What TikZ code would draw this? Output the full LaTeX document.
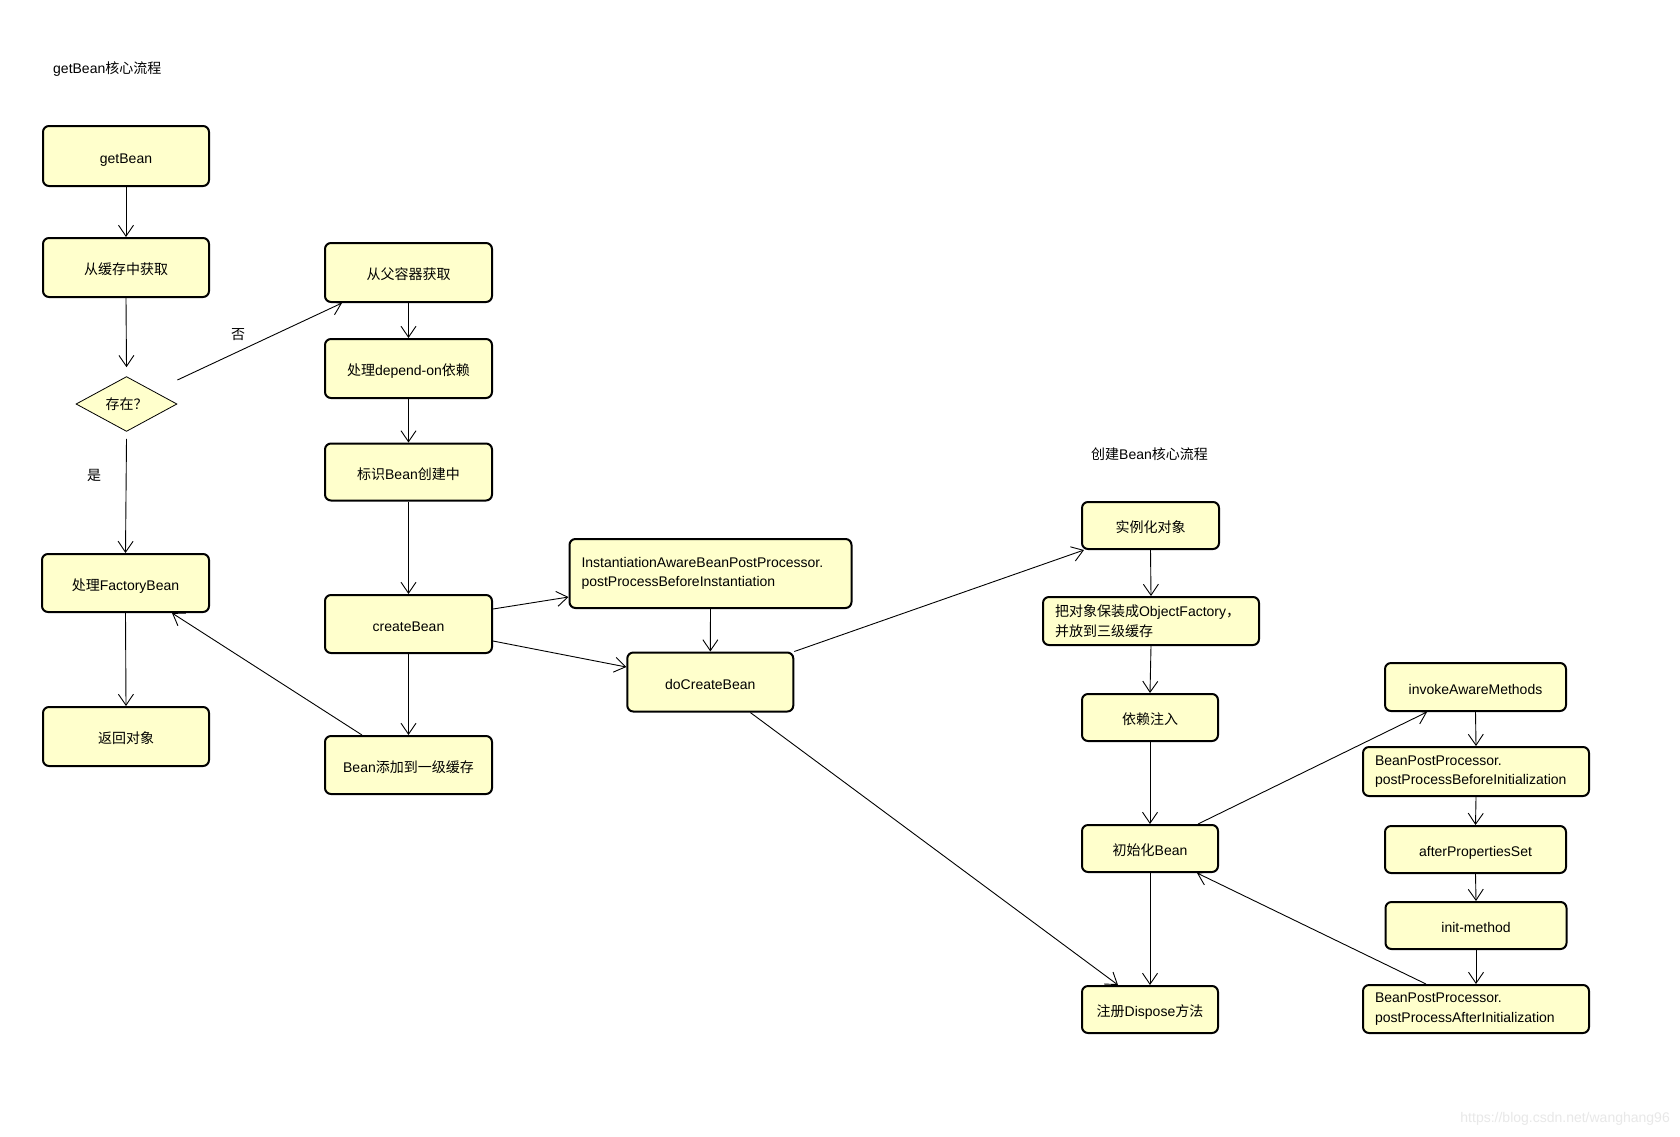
\documentclass[tikz,border=0pt]{standalone}
\usepackage{fontspec}
\setmainfont{Liberation Sans}
\newfontfamily\cjk{Noto Sans CJK SC}
\usetikzlibrary{arrows.meta,shapes.geometric,calc}
\definecolor{boxfill}{RGB}{255,255,204}
\newcommand\zhtxt[1]{{\cjk #1}}
\begin{document}
\begin{tikzpicture}[x=1pt,y=-1pt,
  font=\fontsize{14}{19.5}\selectfont,
  box/.style={draw=black, line width=2pt, rounded corners=6pt, fill=boxfill, inner sep=0pt, align=center},
  sbox/.style={box, text height=17pt, text depth=3pt},
  lbox/.style={box, align=left, inner xsep=12pt},
  flow/.style={line width=0.9pt, -{Straight Barb[length=11pt,width=15pt,line width=0.9pt]}},
  lbl/.style={inner sep=0pt},
]
\useasboundingbox[fill=white] (0,0) rectangle (1680,1136);

% titles
\node[lbl, anchor=west] (t1) at (53,69) {getBean\zhtxt{核心流程}};
\node[lbl, anchor=west] (t2) at (1091,454) {\zhtxt{创建}Bean\zhtxt{核心流程}};

% left column
\node[sbox, minimum width=166pt, minimum height=60pt] (getbean) at (126,156) {getBean};
\node[sbox, minimum width=166pt, minimum height=59pt] (cache) at (126,267.5) {\zhtxt{从缓存中获取}};
\node[diamond, draw=black, line width=0.8pt, fill=boxfill, minimum width=101pt, minimum height=54pt, inner sep=0pt] (dia) at (126.5,404) {\zhtxt{存在？}};
\node[sbox, minimum width=167pt, minimum height=58pt] (factory) at (125.5,583) {\zhtxt{处理}FactoryBean};
\node[sbox, minimum width=166pt, minimum height=59pt] (ret) at (126,736.5) {\zhtxt{返回对象}};

% second column
\node[sbox, minimum width=167pt, minimum height=59pt] (parent) at (408.5,272.5) {\zhtxt{从父容器获取}};
\node[sbox, minimum width=167pt, minimum height=59pt] (depend) at (408.5,368.5) {\zhtxt{处理}depend-on\zhtxt{依赖}};
\node[sbox, minimum width=167pt, minimum height=57pt] (mark) at (408.5,472) {\zhtxt{标识}Bean\zhtxt{创建中}};
\node[sbox, minimum width=167pt, minimum height=58pt] (create) at (408.5,624) {createBean};
\node[sbox, minimum width=167pt, minimum height=58pt] (add) at (408.5,765) {Bean\zhtxt{添加到一级缓存}};

% middle
\node[lbox, text width=258pt, minimum height=69pt] (inst) at (710.5,573.5) {InstantiationAwareBeanPostProcessor.\\postProcessBeforeInstantiation};
\node[sbox, minimum width=166pt, minimum height=59pt] (docreate) at (710.3,682) {doCreateBean};

% createBean column
\node[sbox, minimum width=137pt, minimum height=47pt] (newobj) at (1150.5,525.5) {\zhtxt{实例化对象}};
\node[lbox, text width=192pt, minimum height=48pt] (wrap) at (1151,621) {\zhtxt{把对象保装成}ObjectFactory\zhtxt{，}\\\zhtxt{并放到三级缓存}};
\node[sbox, minimum width=136pt, minimum height=47pt] (inject) at (1150,717.5) {\zhtxt{依赖注入}};
\node[sbox, minimum width=136pt, minimum height=47pt] (init) at (1150,848.5) {\zhtxt{初始化}Bean};
\node[sbox, minimum width=136pt, minimum height=47pt] (dispose) at (1150,1009.5) {\zhtxt{注册}Dispose\zhtxt{方法}};

% init column
\node[sbox, minimum width=181pt, minimum height=48pt] (aware) at (1475.5,687) {invokeAwareMethods};
\node[lbox, text width=202pt, minimum height=49pt] (bppb) at (1476,771.5) {BeanPostProcessor.\\postProcessBeforeInitialization};
\node[sbox, minimum width=181pt, minimum height=47pt] (aps) at (1475.5,849.5) {afterPropertiesSet};
\node[sbox, minimum width=181pt, minimum height=47pt] (initm) at (1476,925.5) {init-method};
\node[lbox, text width=202pt, minimum height=48pt] (bppa) at (1476,1009) {BeanPostProcessor.\\postProcessAfterInitialization};

% labels
\node[lbl] (no) at (238,335) {\zhtxt{否}};
\node[lbl] (yes) at (94,475) {\zhtxt{是}};

% connectors
\draw[flow] (getbean.south) -- (cache.north);
\draw[flow] (cache.south) -- ([yshift=9pt]dia.north);
\draw[flow] ([yshift=24pt]dia.east) -- ([xshift=18pt]parent.south west);
\draw[flow] ([yshift=-7pt]dia.south) -- (factory.north);
\draw[flow] (factory.south) -- (ret.north);
\draw[flow] (parent.south) -- (depend.north);
\draw[flow] (depend.south) -- (mark.north);
\draw[flow] (mark.south) -- (create.north);
\draw[flow] (create.south) -- (add.north);
\draw[flow] ([yshift=15pt]create.east) -- ([yshift=-23.5pt]inst.west);
\draw[flow] ([yshift=-17pt]create.east) -- ([yshift=15pt]docreate.west);
\draw[flow] (inst.south) -- (docreate.north);
\draw[flow] ([xshift=-46.5pt]add.north) -- ([xshift=46.5pt]factory.south);
\draw[flow] (docreate.north east) -- ([xshift=3pt]newobj.south west);
\draw[flow] ([xshift=40pt]docreate.south) -- ([xshift=-32pt]dispose.north);
\draw[flow] (newobj.south) -- (wrap.north);
\draw[flow] (wrap.south) -- (inject.north);
\draw[flow] (inject.south) -- (init.north);
\draw[flow] (init.south) -- (dispose.north);
\draw[flow] ([xshift=48pt]init.north) -- ([xshift=-48.5pt]aware.south);
\draw[flow] (aware.south) -- (bppb.north);
\draw[flow] (bppb.south) -- (aps.north);
\draw[flow] (aps.south) -- (initm.north);
\draw[flow] (initm.south) -- (bppa.north);
\draw[flow] ([xshift=-50pt]bppa.north) -- ([xshift=47pt]init.south);

% watermark
\node[lbl, anchor=east, text=black!9, font=\fontsize{14}{16}\selectfont] (wm) at (1670,1119) {https://blog.csdn.net/wanghang96};
\end{tikzpicture}
\end{document}
